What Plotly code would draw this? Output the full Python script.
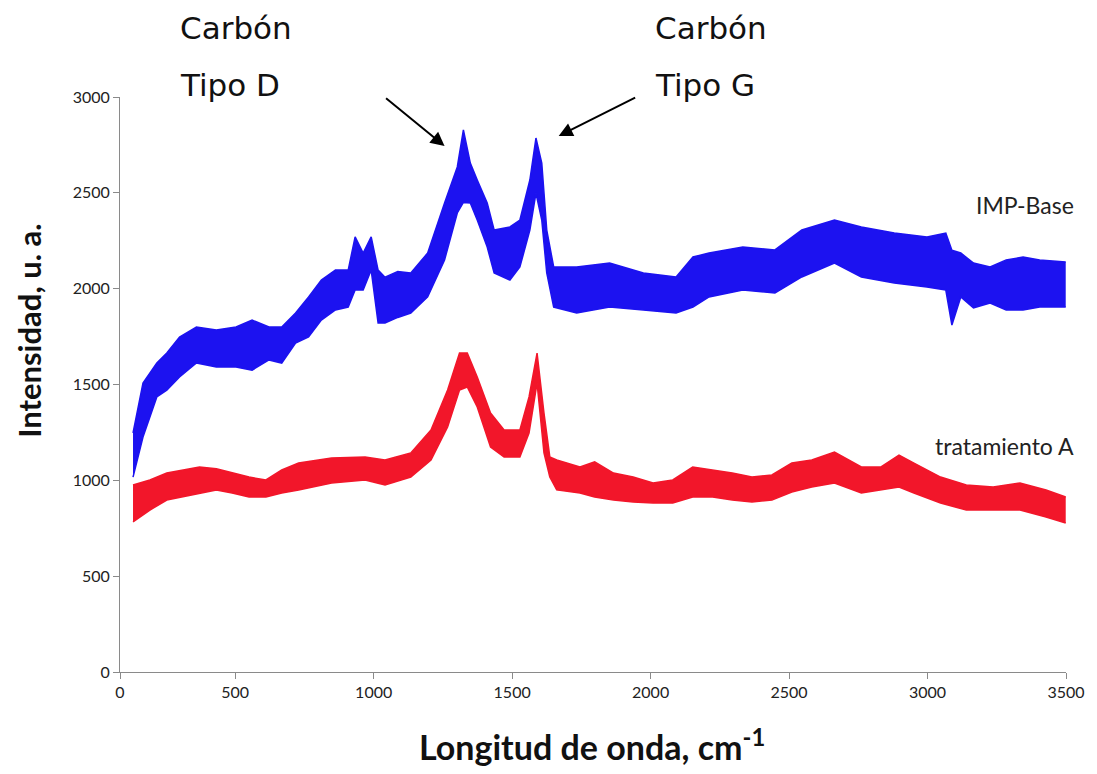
import plotly.graph_objects as go

# ---------------- data ----------------
imp_wavenumber = [131, 167, 217, 253, 299, 360, 432, 503, 561, 622, 668, 718, 765, 811, 862,
                  908, 933, 962, 991, 1016, 1041, 1087, 1134, 1195, 1256, 1302, 1324, 1349,
                  1374, 1410, 1435, 1492, 1528, 1564, 1586, 1607, 1625, 1650, 1733, 1852,
                  1974, 2092, 2153, 2211, 2333, 2449, 2546, 2664, 2761, 2880, 2998, 3066,
                  3088, 3120, 3166, 3226, 3284, 3345, 3405, 3499]
imp_upper = [1247, 1508, 1612, 1664, 1748, 1800, 1784, 1800, 1836, 1800, 1800, 1873, 1957, 2045, 2097,
             2097, 2270, 2186, 2270, 2097, 2060, 2090, 2082, 2186, 2447, 2635, 2828, 2655,
             2567, 2447, 2306, 2322, 2358, 2567, 2786, 2655, 2306, 2113, 2113, 2134,
             2082, 2061, 2165, 2186, 2217, 2202, 2306, 2358, 2322, 2290, 2270, 2290,
             2200, 2186, 2134, 2113, 2150, 2165, 2150, 2139]
imp_lower = [1017, 1226, 1435, 1471, 1539, 1612, 1591, 1591, 1575, 1628, 1612, 1716, 1748, 1836, 1889,
             1904, 1993, 1993, 2097, 1821, 1821, 1850, 1873, 1957, 2150, 2395, 2450, 2447,
             2358, 2217, 2082, 2045, 2113, 2306, 2499, 2358, 2082, 1904, 1873, 1904,
             1889, 1873, 1904, 1957, 1993, 1977, 2061, 2134, 2061, 2030, 2009, 1993,
             1810, 1957, 1900, 1925, 1889, 1889, 1904, 1904]

trat_wavenumber = [131, 192, 253, 371, 432, 489, 550, 611, 668, 729, 848, 969, 1041, 1134, 1207,
                   1267, 1310, 1338, 1374, 1422, 1471, 1528, 1561, 1590, 1615, 1636, 1661,
                   1745, 1798, 1866, 1937, 2009, 2080, 2152, 2224, 2295, 2366, 2438, 2510,
                   2582, 2664, 2761, 2832, 2897, 2951, 3047, 3140, 3237, 3334, 3428, 3499]
trat_upper = [976, 1002, 1038, 1070, 1060, 1038, 1017, 1002, 1054, 1090, 1116, 1122, 1106, 1143, 1263,
              1471, 1664, 1664, 1539, 1351, 1263, 1263, 1435, 1664, 1351, 1122, 1106,
              1070, 1096, 1038, 1017, 986, 1002, 1070, 1054, 1038, 1017, 1028, 1090,
              1106, 1148, 1070, 1070, 1132, 1090, 1017, 976, 965, 986, 950, 913]
trat_lower = [783, 845, 897, 934, 950, 934, 913, 913, 934, 950, 986, 1002, 976, 1017, 1106,
              1278, 1471, 1487, 1383, 1174, 1122, 1122, 1247, 1508, 1143, 1017, 950,
              934, 913, 897, 887, 882, 882, 913, 913, 897, 887, 897, 939,
              965, 986, 934, 950, 965, 934, 882, 845, 845, 845, 809, 777]

x_tick_vals = [84, 500, 1000, 1500, 2000, 2500, 3000, 3500]
x_tick_text = ["0", "500", "1000", "1500", "2000", "2500", "3000", "3500"]
y_tick_vals = [0, 500, 1000, 1500, 2000, 2500, 3000]

BLUE = "rgb(28,18,240)"
RED = "rgb(242,22,42)"

fig = go.Figure()

def band(x, lo, hi, color, name):
    fig.add_trace(go.Scatter(x=x, y=lo, mode="lines", line=dict(color=color, width=1.5),
                             showlegend=False, hoverinfo="skip"))
    fig.add_trace(go.Scatter(x=x, y=hi, mode="lines", line=dict(color=color, width=1.5),
                             fill="tonexty", fillcolor=color, name=name, showlegend=False))

band(imp_wavenumber, imp_lower, imp_upper, BLUE, "IMP-Base")
band(trat_wavenumber, trat_lower, trat_upper, RED, "tratamiento A")

FONT = "Lato, 'Open Sans', sans-serif"
tick_font = dict(family=FONT, size=16, color="#222")

fig.update_xaxes(range=[84, 3500], tickmode="array", tickvals=x_tick_vals, ticktext=x_tick_text,
                 showgrid=False, zeroline=False, showline=True, linecolor="#8a8a8a", linewidth=1,
                 ticks="outside", ticklen=6, tickcolor="#8a8a8a", tickfont=tick_font)
fig.update_yaxes(range=[0, 3000], tickmode="array", tickvals=y_tick_vals,
                 showgrid=False, zeroline=False, showline=True, linecolor="#8a8a8a", linewidth=1,
                 ticks="outside", ticklen=6, tickcolor="#8a8a8a", tickfont=tick_font)

ann_font = dict(family="DejaVu Sans, Verdana, sans-serif", size=31, color="#111")
lab_font = dict(family=FONT, size=23, color="#222")

annotations = [
    # axis titles
    dict(text="<b>Longitud de onda, cm<sup>-1</sup></b>", xref="paper", yref="paper",
         x=(595 - 120) / 953, y=(672 - 745) / 575, xanchor="center", yanchor="middle",
         showarrow=False, font=dict(family=FONT, size=34, color="#111")),
    dict(text="<b>Intensidad, u. a.</b>", xref="paper", yref="paper", textangle=-90,
         x=(28 - 120) / 953, y=(672 - 331) / 575, xanchor="center", yanchor="middle",
         showarrow=False, font=dict(family=FONT, size=31, color="#111")),
    # peak labels
    dict(text="Carbón", xref="paper", yref="paper", x=0.061, y=1.12, xanchor="left", yanchor="middle",
         showarrow=False, font=ann_font),
    dict(text="Tipo D", xref="paper", yref="paper", x=0.061, y=1.021, xanchor="left", yanchor="middle",
         showarrow=False, font=ann_font),
    dict(text="Carbón", xref="paper", yref="paper", x=0.563, y=1.12, xanchor="left", yanchor="middle",
         showarrow=False, font=ann_font),
    dict(text="Tipo G", xref="paper", yref="paper", x=0.563, y=1.021, xanchor="left", yanchor="middle",
         showarrow=False, font=ann_font),
    dict(x=1256, y=2744, ax=-60, ay=-49, text="", showarrow=True, arrowhead=2, arrowsize=1.4,
         arrowwidth=2, arrowcolor="#000"),
    dict(x=1668, y=2797, ax=78, ay=-39, text="", showarrow=True, arrowhead=2, arrowsize=1.4,
         arrowwidth=2, arrowcolor="#000"),
    # series labels
    dict(text="IMP-Base", x=3500, y=2437, xanchor="right", yanchor="middle", xshift=10,
         showarrow=False, font=lab_font),
    dict(text="tratamiento A", x=3500, y=1179, xanchor="right", yanchor="middle", xshift=10,
         showarrow=False, font=lab_font),
]

fig.update_layout(width=1097, height=774, margin=dict(l=120, r=24, t=97, b=102),
                  plot_bgcolor="white", paper_bgcolor="white", annotations=annotations,
                  showlegend=False)

fig.write_html("out.html")
